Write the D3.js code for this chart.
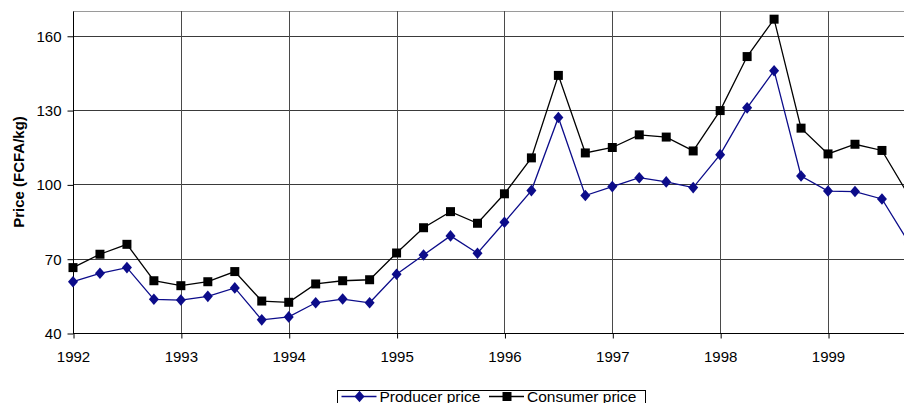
<!DOCTYPE html>
<html>
<head>
<meta charset="utf-8">
<script src="https://cdn.jsdelivr.net/npm/d3@7"></script>
<style>
  body { margin: 0; background: #fff; }
  svg { display: block; font-family: "Liberation Sans", Arial, sans-serif; }
</style>
</head>
<body>
<svg id="chart" width="904" height="403"></svg>
<script>
// quarterly observations, 1992 to 1999
var quarters = [1992, 1992.25, 1992.5, 1992.75, 1993, 1993.25, 1993.5, 1993.75,
  1994, 1994.25, 1994.5, 1994.75, 1995, 1995.25, 1995.5, 1995.75,
  1996, 1996.25, 1996.5, 1996.75, 1997, 1997.25, 1997.5, 1997.75,
  1998, 1998.25, 1998.5, 1998.75, 1999, 1999.25, 1999.5, 1999.75]
var producer = [60.7, 64.1, 66.4, 53.6, 53.3, 54.8, 58.2, 45.3,
  46.5, 52.2, 53.7, 52.2, 63.7, 71.5, 79.2, 72.2,
  84.7, 97.5, 127.0, 95.5, 99.1, 102.7, 101.0, 98.7,
  112.0, 130.9, 145.9, 103.4, 97.3, 97.1, 94.1, 76.4]
var consumer = [66.4, 71.8, 75.8, 61.1, 59.1, 60.7, 64.8, 52.9,
  52.4, 59.8, 61.1, 61.5, 72.3, 82.5, 89.0, 84.3,
  96.2, 110.7, 144.0, 112.7, 114.9, 120.0, 119.1, 113.5,
  129.8, 151.6, 166.7, 122.7, 112.3, 116.2, 113.7, 95.4]
var yTicks = [40, 70, 100, 130, 160]
var xTicks = [1992, 1993, 1994, 1995, 1996, 1997, 1998, 1999]

var svg = d3.select("#chart")
var plotL = 73, plotT = 11, plotB = 333, yearW = 107.86

var x = d3.scaleLinear().domain([1992, 2000]).range([plotL, plotL + 8 * yearW])
var y = d3.scaleLinear().domain([40, 170]).range([plotB, plotT])

// plot frame top edge
svg.append("line")
  .attr("x1", plotL).attr("x2", 904)
  .attr("y1", plotT + 0.5).attr("y2", plotT + 0.5)
  .attr("stroke", "#9a9a9a")

// horizontal gridlines
svg.append("g").selectAll("line")
  .data(yTicks.slice(1))
  .enter().append("line")
  .attr("x1", plotL).attr("x2", 904)
  .attr("y1", d => Math.round(y(d)) + 0.5).attr("y2", d => Math.round(y(d)) + 0.5)
  .attr("stroke", "#3a3a3a")

// vertical gridlines
svg.append("g").selectAll("line")
  .data(xTicks.slice(1))
  .enter().append("line")
  .attr("x1", d => Math.round(x(d)) + 0.5).attr("x2", d => Math.round(x(d)) + 0.5)
  .attr("y1", plotT).attr("y2", plotB)
  .attr("stroke", "#4a4a4a")

// axes
var yAxis = svg.append("g")
  .attr("transform", "translate(" + (plotL + 0.5) + ",0.5)")
  .call(d3.axisLeft(y).tickValues(yTicks).tickSize(6).tickPadding(6).tickSizeOuter(0))
yAxis.select(".domain").attr("d", "M0," + plotT + "V" + (plotB - 0.5))

var xAxis = svg.append("g")
  .attr("transform", "translate(0," + (plotB + 0.5) + ")")
  .call(d3.axisBottom(x).tickValues(xTicks).tickFormat(d3.format("d")).tickSize(5).tickPadding(13).tickSizeOuter(0))
xAxis.select(".domain").attr("d", "M" + plotL + ",0H904")
xAxis.selectAll(".tick line").attr("transform", "translate(0.5,0)")

svg.selectAll(".tick text").attr("font-size", 15).attr("fill", "#000")
  .attr("font-family", "'Liberation Sans', Arial, sans-serif")
svg.selectAll(".domain, .tick line").attr("stroke", "#000")

svg.append("text")
  .attr("transform", "translate(24," + ((plotT + plotB) / 2) + ") rotate(-90)")
  .attr("text-anchor", "middle")
  .attr("font-size", 15).attr("font-weight", "bold")
  .text("Price (FCFA/kg)")

var line = d3.line().x(d => x(d[0])).y(d => y(d[1]))

var diamond = "M0,-5.8L5,0L0,5.8L-5,0Z"
var square = "M-4.5,-4.5H4.5V4.5H-4.5Z"

var series = [
  {name: "Producer price", values: producer, color: "#0c0c8a", shape: diamond},
  {name: "Consumer price", values: consumer, color: "#000000", shape: square}
]

series.forEach(function(s) {
  var pts = quarters.map((q, i) => [q, s.values[i]])
  svg.append("path")
    .datum(pts)
    .attr("d", line)
    .attr("fill", "none")
    .attr("stroke", s.color)
    .attr("stroke-width", 1.3)
  svg.append("g").selectAll("path")
    .data(pts)
    .enter().append("path")
    .attr("transform", d => "translate(" + x(d[0]) + "," + y(d[1]) + ")")
    .attr("d", s.shape)
    .attr("fill", s.color)
})

// legend
var lg = svg.append("g").attr("transform", "translate(337.5,390.5)")
lg.append("rect")
  .attr("width", 308).attr("height", 20)
  .attr("fill", "#fff").attr("stroke", "#000")
var items = [
  {s: series[0], x0: 4, tx: 42},
  {s: series[1], x0: 151.5, tx: 189.5}
]
items.forEach(function(it) {
  lg.append("line")
    .attr("x1", it.x0).attr("x2", it.x0 + 35)
    .attr("y1", 6).attr("y2", 6)
    .attr("stroke", it.s.color).attr("stroke-width", 1.3)
  lg.append("path")
    .attr("transform", "translate(" + (it.x0 + 18) + ",6)")
    .attr("d", it.s.shape)
    .attr("fill", it.s.color)
  lg.append("text")
    .attr("x", it.tx).attr("y", 11.5)
    .attr("font-size", 15.5)
    .text(it.s.name)
})
</script>
</body>
</html>
